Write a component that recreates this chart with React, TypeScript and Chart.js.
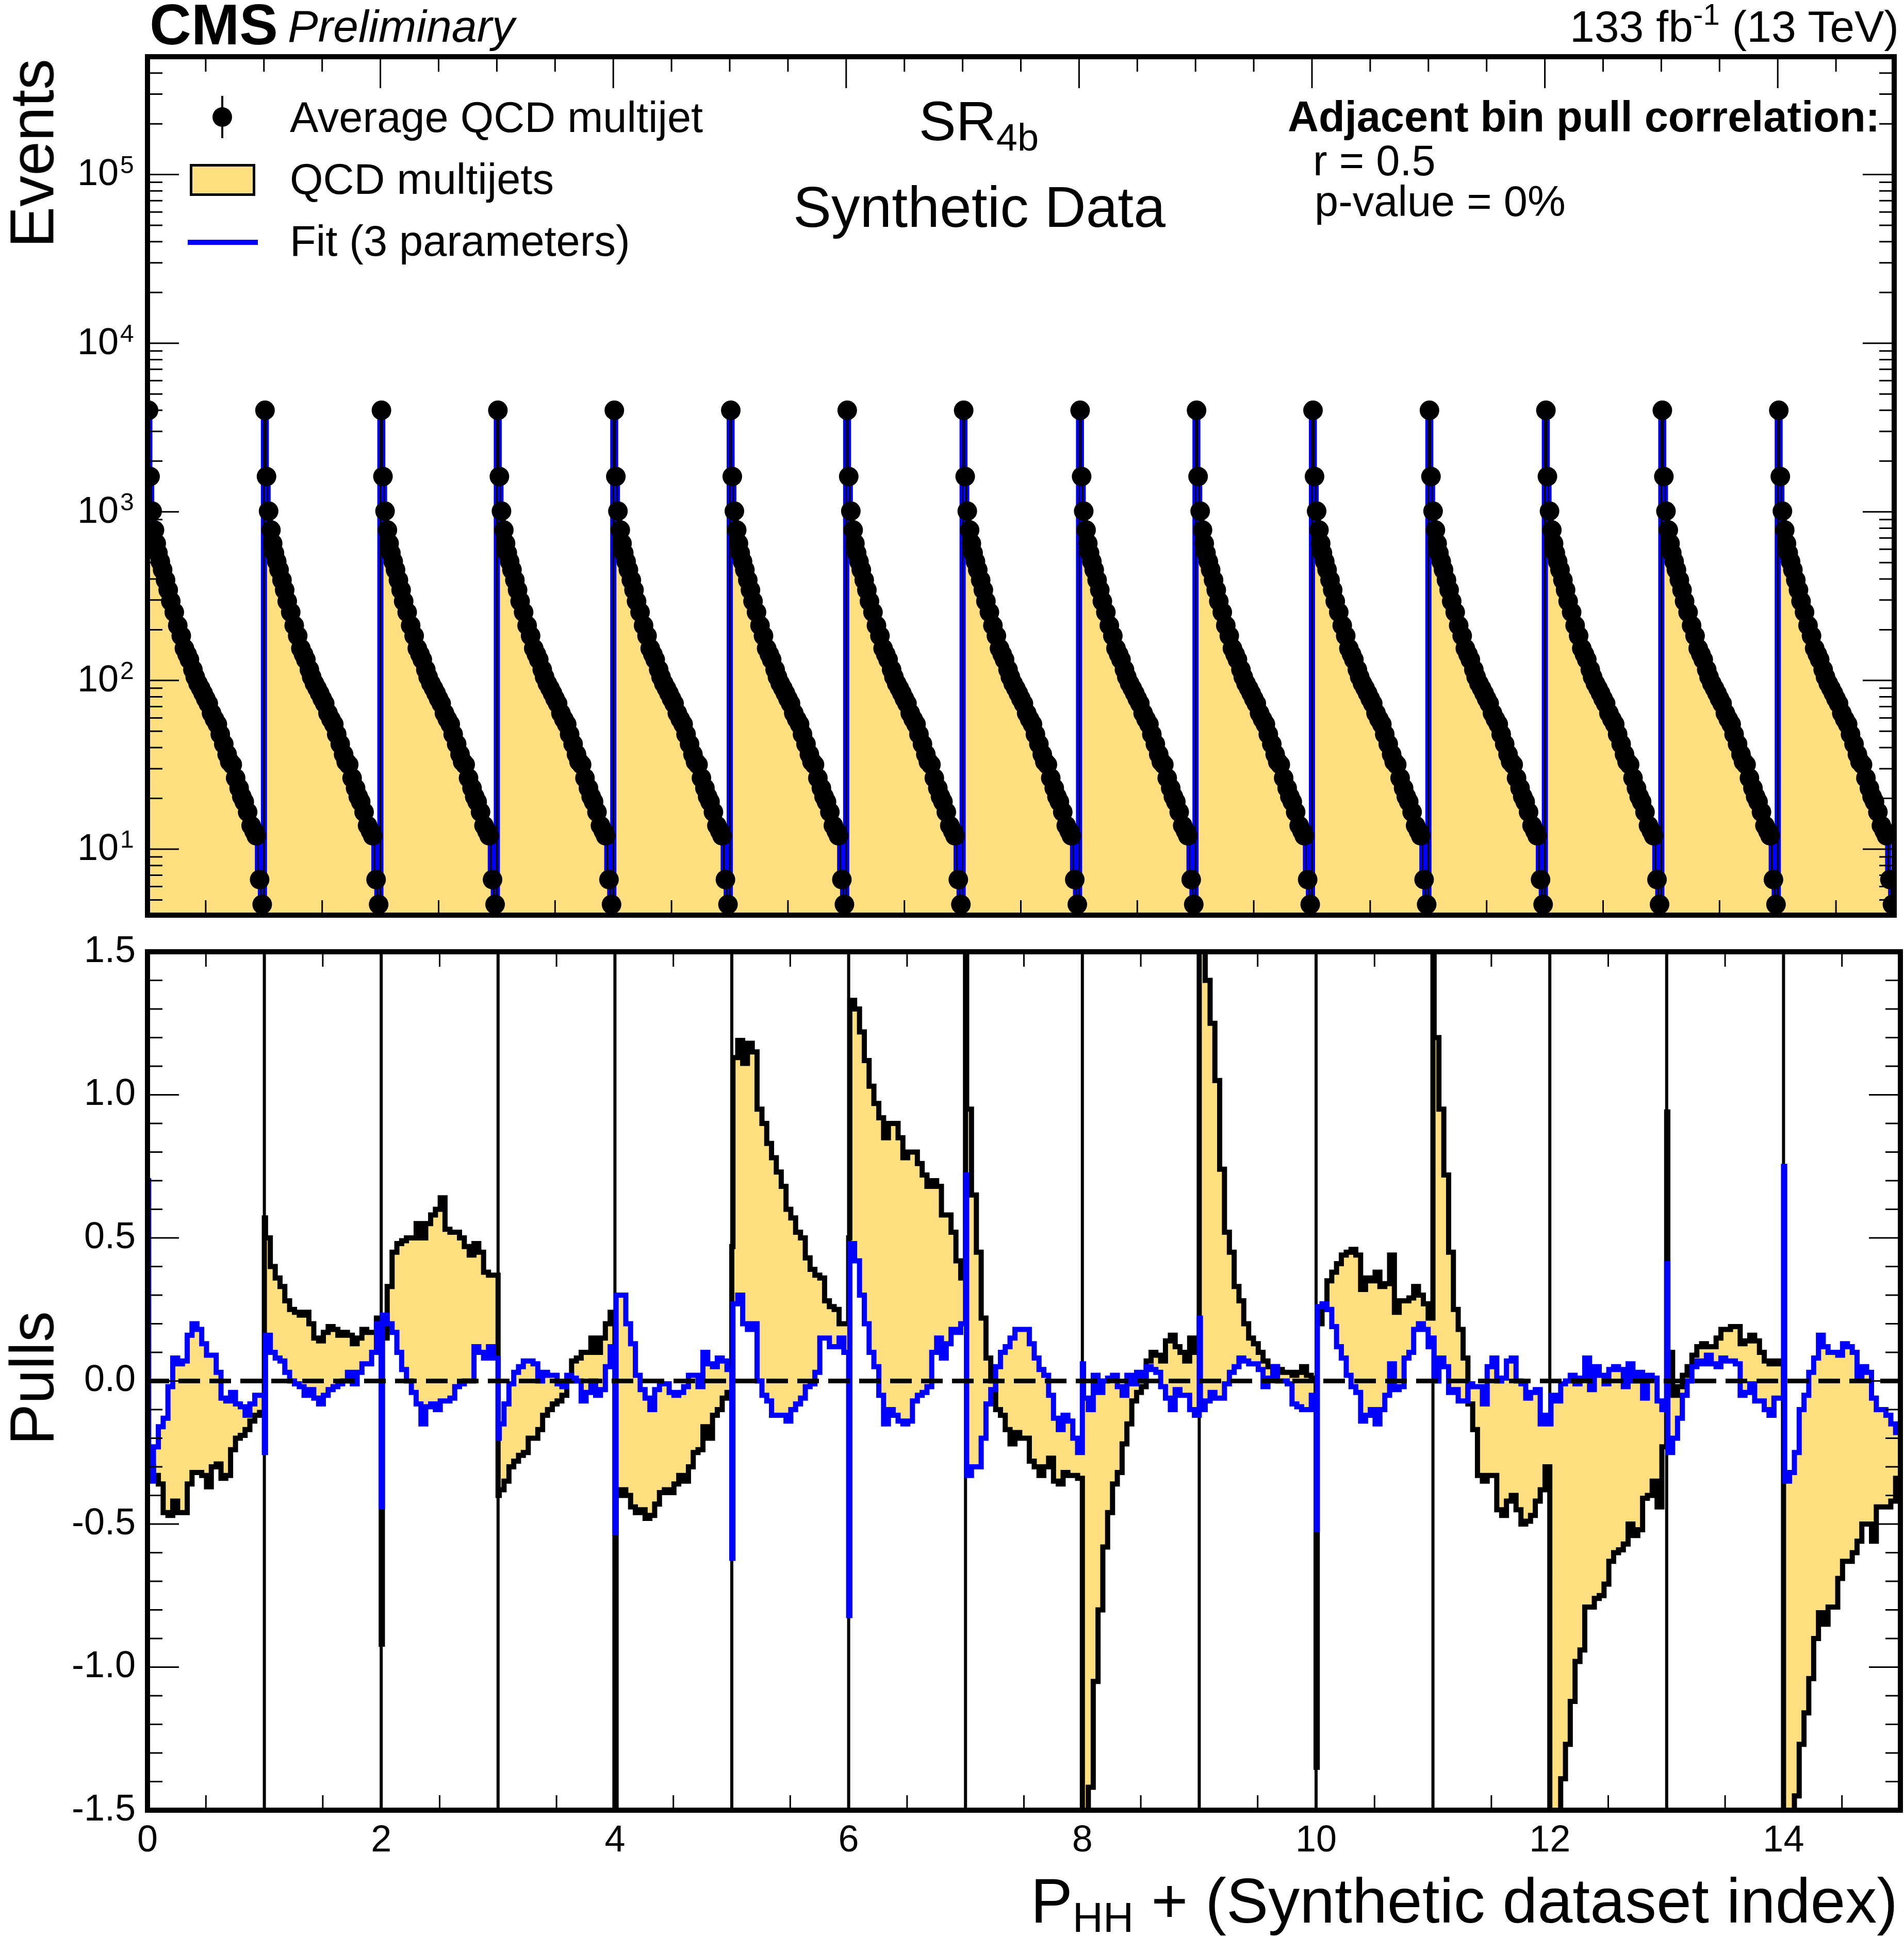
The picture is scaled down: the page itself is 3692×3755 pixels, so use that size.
import React, { useEffect, useRef } from 'react';
import { Chart, registerables } from 'chart.js';

Chart.register(...registerables);

const W = 3692;
const H = 3755;
const FONT = "'Liberation Sans', Arimo, Arial, Helvetica, sans-serif";
const YELLOW = '#FFDF80';
const BLUE = '#0000FF';
Chart.defaults.font.family = FONT;

// ---------------- data ----------------
const datasetIndices = [0, 1, 2, 3, 4, 5, 6, 7, 8, 9, 10, 11, 12, 13, 14];
const xMin = 0;
const xMax = 15;
const eventsMin = 4.06;
const eventsMax = 5e5;
const pullMin = -1.5;
const pullMax = 1.5;

// top panel: P_HH bin centres (within one synthetic dataset) and events
const avgBinCenters = [0.009, 0.022, 0.04, 0.06, 0.075, 0.09, 0.11, 0.13, 0.155, 0.178, 0.2, 0.23, 0.26, 0.29, 0.317, 0.34, 0.36, 0.39, 0.41, 0.434, 0.456, 0.478, 0.5, 0.522, 0.55, 0.575, 0.6, 0.625, 0.655, 0.684, 0.706, 0.728, 0.757, 0.787, 0.81, 0.831, 0.86, 0.89, 0.915, 0.934, 0.963, 0.985];
const avgQcdEvents = [4000, 1620, 1010, 780, 650, 570, 508, 453, 394, 344, 295, 254, 212, 184, 155, 143, 133, 116, 105, 96, 90, 84, 78, 73, 64, 59, 55, 48, 42, 36.5, 33, 31.7, 26.4, 23, 20.5, 19.1, 16.6, 13.8, 12.8, 12, 6.6, 4.7];
const qcdEvents = avgQcdEvents;
const fitEvents = avgQcdEvents;

// bottom panel: bin left edges within one synthetic dataset
const pullBinEdges = [0, 0.01, 0.051, 0.093, 0.134, 0.175, 0.216, 0.258, 0.299, 0.34, 0.381, 0.423, 0.464, 0.505, 0.546, 0.588, 0.629, 0.67, 0.711, 0.753, 0.794, 0.835, 0.876, 0.918, 0.959, 1];

// pulls of the QCD multijet histogram, one row per synthetic dataset
const qcdPullRows = [
  [-0.3, -0.3, -0.33, -0.36, -0.46, -0.47, -0.42, -0.46, -0.46, -0.36, -0.32, -0.32, -0.33, -0.37, -0.3, -0.29, -0.34, -0.33, -0.24, -0.2, -0.19, -0.17, -0.14, -0.12, -0.11],
  [0.57, 0.5, 0.4, 0.36, 0.33, 0.28, 0.25, 0.24, 0.23, 0.24, 0.2, 0.15, 0.14, 0.17, 0.19, 0.18, 0.16, 0.17, 0.16, 0.13, 0.15, 0.18, 0.17, 0.17, 0.22],
  [-0.92, 0.15, 0.33, 0.45, 0.48, 0.49, 0.5, 0.5, 0.55, 0.5, 0.55, 0.58, 0.6, 0.64, 0.53, 0.52, 0.52, 0.5, 0.47, 0.44, 0.48, 0.45, 0.38, 0.37, 0.37],
  [-0.4, -0.38, -0.35, -0.3, -0.28, -0.26, -0.25, -0.2, -0.2, -0.17, -0.12, -0.1, -0.08, -0.07, -0.05, 0.0, 0.07, 0.08, 0.1, 0.1, 0.15, 0.1, 0.15, 0.2, 0.24],
  [-1.8, -0.4, -0.38, -0.4, -0.44, -0.46, -0.45, -0.48, -0.47, -0.43, -0.39, -0.38, -0.39, -0.36, -0.33, -0.35, -0.3, -0.25, -0.24, -0.16, -0.2, -0.12, -0.1, -0.06, -0.04],
  [0.47, 1.13, 1.19, 1.11, 1.18, 1.15, 0.95, 0.9, 0.83, 0.78, 0.73, 0.68, 0.6, 0.57, 0.52, 0.5, 0.43, 0.39, 0.37, 0.36, 0.28, 0.26, 0.25, 0.2, 0.2],
  [0.5, 1.33, 1.3, 1.22, 1.12, 1.03, 0.97, 0.92, 0.85, 0.9, 0.9, 0.85, 0.78, 0.8, 0.8, 0.76, 0.72, 0.68, 0.7, 0.68, 0.58, 0.58, 0.52, 0.42, 0.36],
  [1.8, 0.95, 0.65, 0.45, 0.22, 0.08, 0.0, -0.1, -0.12, -0.17, -0.22, -0.18, -0.2, -0.2, -0.28, -0.3, -0.33, -0.3, -0.27, -0.35, -0.36, -0.32, -0.33, -0.33, -0.34],
  [-1.8, -1.6, -1.42, -1.05, -0.8, -0.58, -0.46, -0.36, -0.32, -0.22, -0.15, -0.07, -0.04, -0.02, 0.07, 0.1, 0.09, 0.07, 0.14, 0.16, 0.12, 0.1, 0.07, 0.15, 0.1],
  [1.8, 1.8, 1.4, 1.25, 1.05, 0.74, 0.52, 0.45, 0.33, 0.28, 0.2, 0.15, 0.13, 0.1, 0.07, 0.05, 0.05, 0.04, 0.03, 0.03, 0.02, 0.03, 0.05, 0.02, 0.01],
  [-1.35, 0.2, 0.25, 0.35, 0.38, 0.41, 0.44, 0.45, 0.46, 0.44, 0.32, 0.36, 0.35, 0.38, 0.33, 0.34, 0.44, 0.24, 0.28, 0.28, 0.29, 0.33, 0.3, 0.27, 0.22],
  [1.8, 1.2, 0.95, 0.72, 0.45, 0.25, 0.18, 0.08, -0.08, -0.17, -0.33, -0.35, -0.33, -0.33, -0.45, -0.47, -0.42, -0.4, -0.45, -0.5, -0.49, -0.47, -0.42, -0.38, -0.3],
  [-1.8, -1.8, -1.8, -1.39, -1.27, -1.12, -0.98, -0.94, -0.79, -0.79, -0.76, -0.75, -0.71, -0.63, -0.6, -0.59, -0.57, -0.5, -0.54, -0.52, -0.41, -0.4, -0.35, -0.44, -0.23],
  [0.94, 0.1, -0.05, -0.02, 0.02, 0.05, 0.09, 0.12, 0.13, 0.12, 0.12, 0.15, 0.18, 0.18, 0.19, 0.19, 0.13, 0.14, 0.16, 0.14, 0.1, 0.07, 0.06, 0.07, 0.06],
  [-1.8, -1.8, -1.8, -1.45, -1.27, -1.16, -1.04, -0.9, -0.81, -0.85, -0.79, -0.79, -0.69, -0.63, -0.63, -0.6, -0.56, -0.5, -0.5, -0.56, -0.44, -0.44, -0.44, -0.42, -0.34],
];

// pulls of the 3-parameter fit, one row per synthetic dataset
const fitPullRows = [
  [0.7, -0.35, -0.23, -0.16, -0.13, -0.02, 0.08, 0.06, 0.07, 0.16, 0.2, 0.18, 0.13, 0.09, 0.09, 0.03, -0.06, -0.07, -0.04, -0.08, -0.09, -0.12, -0.08, -0.05, -0.05],
  [-0.25, 0.16, 0.1, 0.08, 0.07, 0.03, 0.0, -0.01, -0.02, -0.05, -0.03, -0.06, -0.08, -0.05, -0.03, -0.02, -0.01, 0.0, 0.03, -0.01, 0.03, 0.06, 0.06, 0.1, 0.2],
  [-0.44, 0.23, 0.2, 0.17, 0.1, 0.04, 0.0, -0.04, -0.08, -0.15, -0.09, -0.08, -0.1, -0.07, -0.07, -0.06, -0.02, -0.01, 0.0, 0.0, 0.12, 0.1, 0.08, 0.12, 0.08],
  [-0.2, -0.15, -0.08, -0.01, 0.03, 0.05, 0.07, 0.07, 0.06, 0.0, 0.03, 0.02, 0.02, -0.01, -0.02, 0.02, 0.01, 0.0, -0.07, -0.04, 0.0, -0.05, -0.03, 0.05, 0.12],
  [-0.53, 0.3, 0.3, 0.2, 0.13, 0.02, -0.03, -0.06, -0.1, -0.03, -0.01, -0.01, -0.04, -0.05, -0.04, -0.02, 0.02, 0.02, -0.02, 0.1, 0.06, 0.05, 0.08, 0.07, 0.04],
  [-0.62, 0.27, 0.3, 0.2, 0.18, 0.2, 0.0, -0.05, -0.07, -0.12, -0.12, -0.12, -0.14, -0.1, -0.08, -0.06, -0.02, -0.01, 0.03, 0.15, 0.15, 0.12, 0.12, 0.15, 0.1],
  [-0.82, 0.48, 0.42, 0.3, 0.2, 0.1, 0.05, -0.05, -0.15, -0.1, -0.12, -0.14, -0.15, -0.14, -0.07, -0.05, -0.04, -0.02, 0.1, 0.15, 0.08, 0.13, 0.18, 0.17, 0.2],
  [0.72, -0.33, -0.3, -0.3, -0.2, -0.08, -0.03, 0.05, 0.1, 0.12, 0.15, 0.18, 0.18, 0.18, 0.13, 0.08, 0.04, 0.02, -0.05, -0.13, -0.17, -0.12, -0.14, -0.2, -0.25],
  [0.06, -0.06, -0.1, 0.02, -0.04, 0.0, 0.01, 0.02, -0.02, -0.05, 0.02, -0.01, 0.03, 0.0, 0.05, 0.04, 0.03, -0.02, -0.06, -0.1, -0.03, -0.05, -0.05, -0.1, -0.12],
  [0.22, -0.1, -0.07, -0.04, -0.06, -0.06, -0.01, 0.03, 0.05, 0.08, 0.07, 0.06, 0.06, 0.04, -0.02, 0.01, 0.05, 0.0, 0.0, -0.01, -0.08, -0.09, -0.1, -0.1, -0.05],
  [-0.52, 0.26, 0.27, 0.25, 0.19, 0.12, 0.08, 0.02, -0.02, -0.04, -0.14, -0.12, -0.1, -0.15, -0.1, -0.05, 0.06, -0.03, -0.02, 0.08, 0.1, 0.18, 0.2, 0.18, 0.12],
  [0.15, 0.0, 0.08, 0.05, -0.04, -0.03, -0.07, -0.07, -0.01, -0.02, -0.02, -0.08, 0.05, 0.08, 0.0, 0.01, 0.07, 0.08, 0.0, -0.01, -0.06, -0.04, -0.03, -0.15, -0.12],
  [-0.15, -0.05, -0.07, -0.01, 0.0, 0.02, -0.01, 0.01, 0.08, -0.03, 0.05, 0.02, -0.01, 0.04, 0.05, 0.04, -0.02, 0.06, 0.0, 0.03, -0.06, 0.02, 0.01, -0.07, -0.1],
  [0.41, -0.25, -0.2, -0.13, -0.05, 0.0, 0.05, 0.07, 0.06, 0.09, 0.06, 0.05, 0.08, 0.07, 0.07, 0.06, -0.05, -0.04, -0.01, -0.07, -0.07, -0.1, -0.12, -0.06, -0.06],
  [0.75, -0.35, -0.32, -0.25, -0.1, -0.05, 0.03, 0.08, 0.16, 0.12, 0.1, 0.1, 0.09, 0.13, 0.12, 0.1, 0.01, 0.05, 0.03, -0.06, -0.1, -0.1, -0.12, -0.15, -0.18],
];

// ---------------- helpers ----------------
type Pt = { x: number; y: number | null };

function stepPoints(rows: number[][], edges: number[]): Pt[] {
  const pts: Pt[] = [];
  rows.forEach((row, s) => {
    row.forEach((v, j) => pts.push({ x: datasetIndices[s] + edges[Math.min(j, edges.length - 2)], y: v }));
  });
  const last = rows[rows.length - 1];
  pts.push({ x: datasetIndices[rows.length - 1] + 1, y: last[last.length - 1] });
  return pts;
}

const avgBinEdges = avgBinCenters.map((c, i) => (i === 0 ? 0 : (avgBinCenters[i - 1] + c) / 2)).concat([1]);

function rootAxes(opts: {
  xMajor: number[];
  xMinor: number[];
  yMajor: number[];
  yMinor: number[];
  logLabels?: boolean;
}) {
  return {
    id: 'rootAxes',
    afterDatasetsDraw(chart: any) {
      const { ctx, chartArea: a } = chart;
      const xs = chart.scales.x;
      const ys = chart.scales.y;
      const MAJ = 61;
      const MIN = 29;
      ctx.save();
      ctx.strokeStyle = '#000';
      ctx.lineWidth = 3;
      ctx.lineCap = 'butt';
      ctx.beginPath();
      const xt = (v: number, len: number) => {
        const p = xs.getPixelForValue(v);
        ctx.moveTo(p, a.bottom);
        ctx.lineTo(p, a.bottom - len);
        ctx.moveTo(p, a.top);
        ctx.lineTo(p, a.top + len);
      };
      const yt = (v: number, len: number) => {
        const p = ys.getPixelForValue(v);
        ctx.moveTo(a.left, p);
        ctx.lineTo(a.left + len, p);
        ctx.moveTo(a.right, p);
        ctx.lineTo(a.right - len, p);
      };
      opts.xMajor.forEach((v) => xt(v, MAJ));
      opts.xMinor.forEach((v) => xt(v, MIN));
      opts.yMajor.forEach((v) => yt(v, MAJ));
      opts.yMinor.forEach((v) => yt(v, MIN));
      ctx.stroke();
      ctx.lineWidth = 10;
      ctx.strokeRect(a.left, a.top, a.right - a.left, a.bottom - a.top);
      if (opts.logLabels) {
        ctx.fillStyle = '#000';
        opts.yMajor.forEach((v) => {
          const p = ys.getPixelForValue(v);
          const exp = Math.round(Math.log10(v));
          ctx.font = `72px ${FONT}`;
          ctx.textAlign = 'right';
          ctx.textBaseline = 'middle';
          ctx.fillText('10', 230, p + 1);
          ctx.font = `48px ${FONT}`;
          ctx.textAlign = 'left';
          ctx.textBaseline = 'alphabetic';
          ctx.fillText(String(exp), 233, p - 3);
        });
      }
      ctx.restore();
    },
  };
}

function xTickLists() {
  const major: number[] = [];
  const minor: number[] = [];
  for (let k = 0; k <= 30; k++) {
    const v = k / 2;
    if (k % 4 === 0) major.push(v);
    else minor.push(v);
  }
  return { major, minor };
}

function topConfig(): any {
  const histPts = stepPoints(datasetIndices.map(() => qcdEvents), avgBinEdges);
  const fitPts = stepPoints(datasetIndices.map(() => fitEvents), avgBinEdges);
  const dotPts = datasetIndices.flatMap((s) => avgBinCenters.map((c, i) => ({ x: s + c, y: avgQcdEvents[i] })));
  const xt = xTickLists();
  const yMajor: number[] = [];
  const yMinor: number[] = [];
  for (let d = 0; d <= 5; d++) {
    const b = Math.pow(10, d);
    if (b >= eventsMin && b <= eventsMax) yMajor.push(b);
    for (let k = 2; k <= 9; k++) {
      const v = k * b;
      if (v >= eventsMin && v <= eventsMax) yMinor.push(v);
    }
  }
  return {
    type: 'line',
    data: {
      datasets: [
        { label: 'QCD multijets', data: histPts, stepped: true, fill: 'start', backgroundColor: YELLOW, borderColor: 'rgba(0,0,0,0)', borderWidth: 0, pointRadius: 0, order: 4, clip: 0 },
        { label: 'Fit (3 parameters)', data: fitPts, stepped: true, fill: false, borderColor: BLUE, borderWidth: 12, pointRadius: 0, order: 3, clip: 0 },
        { label: 'QCD multijets outline', data: histPts, stepped: true, fill: false, borderColor: '#000', borderWidth: 3, pointRadius: 0, order: 2, clip: 0 },
        { label: 'Average QCD multijet', data: dotPts, showLine: false, fill: false, pointRadius: 19, pointBackgroundColor: '#000', pointBorderColor: '#000', pointBorderWidth: 0, order: 1, clip: 0 },
      ],
    },
    options: {
      animation: false,
      responsive: false,
      maintainAspectRatio: false,
      devicePixelRatio: 1,
      events: [],
      layout: { padding: { left: 286, right: 7, top: 110, bottom: 25 } },
      scales: {
        x: { type: 'linear', display: false, min: xMin, max: xMax },
        y: { type: 'logarithmic', display: false, min: eventsMin, max: eventsMax },
      },
      plugins: { legend: { display: false }, tooltip: { enabled: false } },
    },
    plugins: [rootAxes({ xMajor: xt.major, xMinor: xt.minor, yMajor, yMinor, logLabels: true })],
  };
}

const BOT_TOP = 1746;
const BOT_PAD_TOP = 100;

function bottomConfig(): any {
  const qcdPts = stepPoints(qcdPullRows, pullBinEdges);
  const fitPts = stepPoints(fitPullRows, pullBinEdges);
  const sepPts: Pt[] = datasetIndices.slice(1).flatMap((i) => [
    { x: i, y: pullMin },
    { x: i, y: pullMax },
    { x: i, y: null },
  ]);
  const zeroLine: Pt[] = [
    { x: xMin, y: 0 },
    { x: xMax, y: 0 },
  ];
  const xt = xTickLists();
  const yMajor: number[] = [];
  const yMinor: number[] = [];
  for (let k = -15; k <= 15; k++) {
    if (k % 5 === 0) yMajor.push(k / 10);
    else yMinor.push(k / 10);
  }
  return {
    type: 'line',
    data: {
      datasets: [
        { label: 'zero', data: zeroLine, borderColor: '#000', borderWidth: 9, borderDash: [42, 18], pointRadius: 0, fill: false, order: 0, clip: 0 },
        { label: 'Fit (3 parameters) pulls', data: fitPts, stepped: true, borderColor: BLUE, borderWidth: 10, pointRadius: 0, fill: false, order: 1, clip: 0 },
        { label: 'QCD multijets pulls', data: qcdPts, stepped: true, borderColor: '#000', borderWidth: 10, pointRadius: 0, fill: { target: 1 }, backgroundColor: YELLOW, order: 2, clip: 0 },
        { label: 'dataset boundaries', data: sepPts, borderColor: '#000', borderWidth: 6, pointRadius: 0, fill: false, spanGaps: false, order: 3, clip: 0 },
      ],
    },
    options: {
      animation: false,
      responsive: false,
      maintainAspectRatio: false,
      devicePixelRatio: 1,
      events: [],
      layout: { padding: { left: 0, right: 7, top: BOT_PAD_TOP, bottom: 0 } },
      scales: {
        x: {
          type: 'linear',
          min: xMin,
          max: xMax,
          grid: { display: false, drawTicks: false },
          border: { display: false },
          ticks: {
            stepSize: 2,
            includeBounds: false,
            autoSkip: false,
            maxRotation: 0,
            padding: 17,
            color: '#000',
            font: { family: FONT, size: 72 },
            callback: (v: number) => String(Math.round(v)),
          },
          afterFit: (s: any) => {
            s.height = 244;
          },
        },
        y: {
          type: 'linear',
          min: pullMin,
          max: pullMax,
          grid: { display: false, drawTicks: false },
          border: { display: false },
          ticks: {
            stepSize: 0.5,
            padding: 23,
            color: '#000',
            font: { family: FONT, size: 72 },
            callback: (v: number) => (Math.abs(v) < 1e-9 ? '0.0' : v.toFixed(1)),
          },
          afterFit: (s: any) => {
            s.width = 286;
          },
        },
      },
      plugins: { legend: { display: false }, tooltip: { enabled: false } },
    },
    plugins: [rootAxes({ xMajor: xt.major, xMinor: xt.minor, yMajor, yMinor })],
  };
}

// ---------------- overlay text ----------------
function Label(props: {
  x: number;
  base: number;
  size: number;
  align?: 'left' | 'right' | 'center';
  bold?: boolean;
  italic?: boolean;
  children: React.ReactNode;
}) {
  const { x, base, size, align = 'left', bold = false, italic = false, children } = props;
  const style: React.CSSProperties = {
    position: 'absolute',
    top: base - 0.8465 * size,
    fontSize: size,
    lineHeight: `${size}px`,
    fontFamily: FONT,
    fontWeight: bold ? 700 : 400,
    fontStyle: italic ? 'italic' : 'normal',
    whiteSpace: 'nowrap',
    color: '#000',
  };
  if (align === 'left') style.left = x;
  else if (align === 'right') style.right = W - x;
  else {
    style.left = x;
    style.transform = 'translateX(-50%)';
  }
  return <div style={style}>{children}</div>;
}

function RotTitle(props: { end?: number; center?: number; size: number; baseX: number; children: React.ReactNode }) {
  const { end, center, size, baseX, children } = props;
  const boxW = 700;
  const by = end !== undefined ? end + boxW : (center as number) + boxW / 2;
  const bx = baseX - 0.8465 * size;
  return (
    <div
      style={{
        position: 'absolute',
        left: 0,
        top: 0,
        width: boxW,
        textAlign: end !== undefined ? 'right' : 'center',
        fontSize: size,
        lineHeight: `${size}px`,
        fontFamily: FONT,
        whiteSpace: 'nowrap',
        color: '#000',
        transformOrigin: '0 0',
        transform: `translate(${bx}px, ${by}px) rotate(-90deg)`,
      }}
    >
      {children}
    </div>
  );
}

export default function App() {
  const topRef = useRef<HTMLCanvasElement>(null);
  const botRef = useRef<HTMLCanvasElement>(null);

  useEffect(() => {
    const top = new Chart(topRef.current as HTMLCanvasElement, topConfig());
    const bot = new Chart(botRef.current as HTMLCanvasElement, bottomConfig());
    return () => {
      top.destroy();
      bot.destroy();
    };
  }, []);

  const abs = (s: React.CSSProperties): React.CSSProperties => ({ position: 'absolute', ...s });
  const botH = H - BOT_TOP;

  return (
    <div style={{ position: 'absolute', left: 0, top: 0, width: W, height: H, overflow: 'hidden', background: '#fff' }}>
      <canvas ref={topRef} width={W} height={1800} style={abs({ left: 0, top: 0, width: W, height: 1800 })} />
      <canvas ref={botRef} width={W} height={botH} style={abs({ left: 0, top: BOT_TOP, width: W, height: botH })} />

      {/* header */}
      <Label x={290} base={87} size={112} bold>CMS</Label>
      <Label x={558} base={81} size={88} italic>Preliminary</Label>
      <Label x={3682} base={81} size={86} align="right">
        133 fb<span style={{ fontSize: 58, position: 'relative', top: -33 }}>-1</span> (13 TeV)
      </Label>

      {/* legend */}
      <div style={abs({ left: 429, top: 186, width: 4, height: 82, background: '#000' })} />
      <div style={abs({ left: 412, top: 208, width: 38, height: 38, borderRadius: '50%', background: '#000' })} />
      <Label x={562} base={256} size={83}>Average QCD multijet</Label>
      <div style={abs({ left: 368, top: 318, width: 127, height: 62, background: YELLOW, border: '5px solid #000', boxSizing: 'border-box' })} />
      <Label x={562} base={376} size={83}>QCD multijets</Label>
      <div style={abs({ left: 364, top: 465, width: 136, height: 10, background: BLUE })} />
      <Label x={562} base={496} size={83}>Fit (3 parameters)</Label>

      {/* annotations */}
      <Label x={1898} base={272} size={108} align="center">
        SR<span style={{ fontSize: 74, position: 'relative', top: 20 }}>4b</span>
      </Label>
      <Label x={1899} base={441} size={111} align="center">Synthetic Data</Label>
      <Label x={2497} base={255} size={83} bold>Adjacent bin pull correlation:</Label>
      <Label x={2546} base={340} size={83}>r = 0.5</Label>
      <Label x={2549} base={419} size={83}>p-value = 0%</Label>

      {/* axis titles */}
      <RotTitle end={114} size={120} baseX={103}>Events</RotTitle>
      <RotTitle center={2673} size={120} baseX={103}>Pulls</RotTitle>
      <Label x={3680} base={3729} size={122} align="right">
        P<span style={{ fontSize: 82, position: 'relative', top: 18 }}>HH</span> + (Synthetic dataset index)
      </Label>
    </div>
  );
}
